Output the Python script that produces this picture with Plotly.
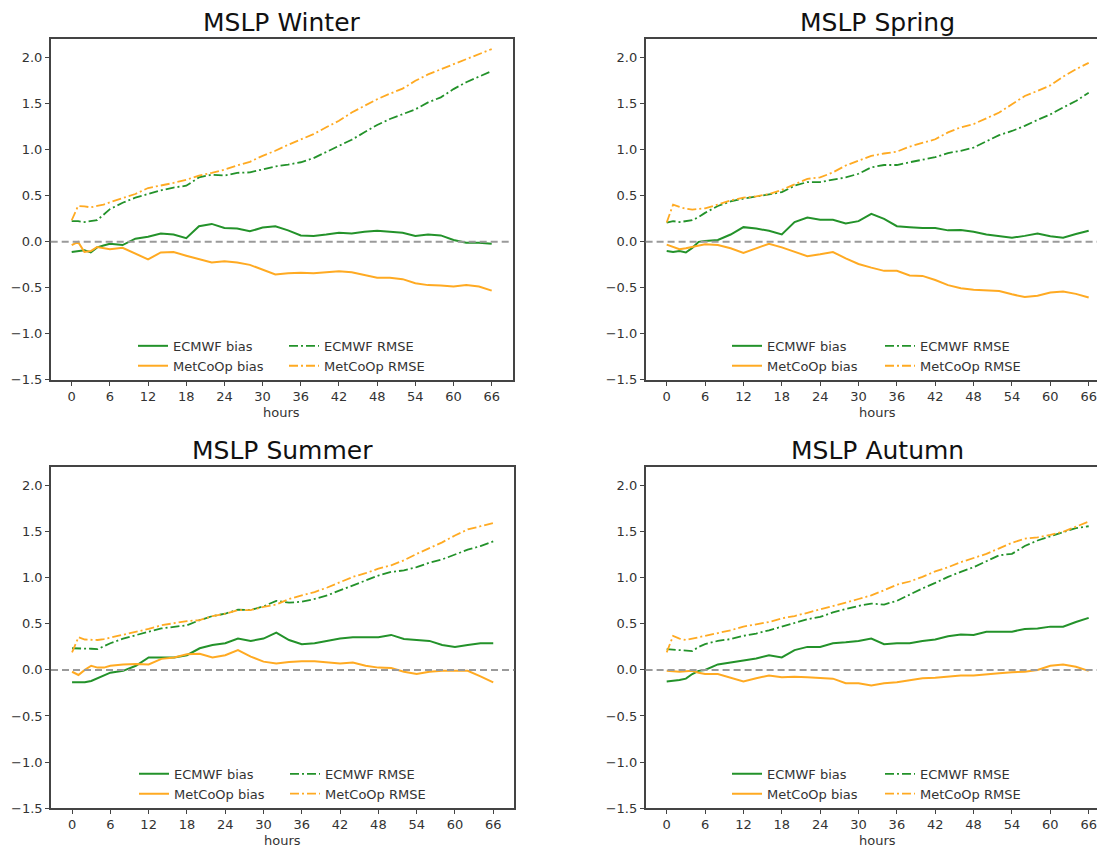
import plotly.graph_objects as go

# ---------------- data ----------------
hours = [0, 1, 2, 3, 4, 5, 6, 8, 10, 12, 14, 16, 18, 20, 22, 24, 26, 28, 30,
         32, 34, 36, 38, 40, 42, 44, 46, 48, 50, 52, 54, 56, 58, 60, 62, 64, 66]

x_tick_vals = [0, 6, 12, 18, 24, 30, 36, 42, 48, 54, 60, 66]
y_tick_vals = [-1.5, -1.0, -0.5, 0.0, 0.5, 1.0, 1.5, 2.0]
y_tick_text = ["\u22121.5", "\u22121.0", "\u22120.5", "0.0", "0.5", "1.0", "1.5", "2.0"]

titles = ["MSLP Winter", "MSLP Spring", "MSLP Summer", "MSLP Autumn"]
series_names = ["ECMWF bias", "MetCoOp bias", "ECMWF RMSE", "MetCoOp RMSE"]

winter_ecmwf_bias = [-0.11, -0.10, -0.09, -0.115, -0.06, -0.04, -0.02, -0.035, 0.035, 0.055, 0.09, 0.08, 0.04,
                     0.17, 0.195, 0.15, 0.145, 0.115, 0.155, 0.17, 0.125, 0.07, 0.065, 0.08, 0.10, 0.09, 0.11,
                     0.12, 0.11, 0.10, 0.065, 0.08, 0.07, 0.02, -0.01, -0.01, -0.02]
winter_metcoop_bias = [-0.035, 0.0, -0.11, -0.10, -0.055, -0.065, -0.08, -0.065, -0.125, -0.19, -0.115, -0.11,
                       -0.15, -0.19, -0.225, -0.21, -0.225, -0.25, -0.305, -0.355, -0.34, -0.335, -0.34, -0.33,
                       -0.32, -0.33, -0.36, -0.39, -0.39, -0.405, -0.45, -0.47, -0.475, -0.485, -0.47, -0.485, -0.53]
winter_ecmwf_rmse = [0.225, 0.225, 0.215, 0.225, 0.235, 0.295, 0.355, 0.425, 0.48, 0.52, 0.56, 0.59, 0.61, 0.70,
                     0.73, 0.72, 0.75, 0.755, 0.79, 0.82, 0.84, 0.865, 0.91, 0.975, 1.045, 1.11, 1.19, 1.27, 1.335,
                     1.385, 1.44, 1.515, 1.57, 1.66, 1.735, 1.795, 1.855]
winter_metcoop_rmse = [0.235, 0.39, 0.385, 0.375, 0.39, 0.405, 0.43, 0.475, 0.52, 0.585, 0.61, 0.64, 0.675, 0.72,
                       0.75, 0.785, 0.83, 0.87, 0.935, 0.99, 1.055, 1.115, 1.17, 1.245, 1.315, 1.405, 1.475, 1.55,
                       1.61, 1.665, 1.75, 1.82, 1.875, 1.93, 1.98, 2.035, 2.095]

spring_ecmwf_bias = [-0.10, -0.11, -0.10, -0.115, -0.065, 0.0, 0.01, 0.02, 0.08, 0.16, 0.145, 0.12, 0.08, 0.215,
                     0.265, 0.24, 0.24, 0.20, 0.225, 0.305, 0.25, 0.17, 0.16, 0.15, 0.15, 0.125, 0.13, 0.11, 0.08,
                     0.06, 0.045, 0.065, 0.09, 0.06, 0.045, 0.085, 0.12]
spring_metcoop_bias = [-0.03, -0.055, -0.08, -0.07, -0.055, -0.035, -0.025, -0.035, -0.07, -0.12, -0.07, -0.02,
                       -0.06, -0.11, -0.155, -0.135, -0.11, -0.18, -0.24, -0.28, -0.315, -0.315, -0.365, -0.37,
                       -0.415, -0.47, -0.505, -0.52, -0.53, -0.535, -0.57, -0.60, -0.585, -0.55, -0.54, -0.565, -0.605]
spring_ecmwf_rmse = [0.21, 0.225, 0.215, 0.225, 0.235, 0.27, 0.315, 0.39, 0.44, 0.47, 0.495, 0.52, 0.54, 0.61,
                     0.65, 0.65, 0.675, 0.70, 0.74, 0.81, 0.835, 0.835, 0.865, 0.895, 0.92, 0.965, 0.99, 1.025,
                     1.09, 1.16, 1.205, 1.26, 1.325, 1.385, 1.46, 1.53, 1.62]
spring_metcoop_rmse = [0.21, 0.405, 0.38, 0.36, 0.35, 0.36, 0.365, 0.405, 0.45, 0.48, 0.495, 0.52, 0.565, 0.625,
                       0.685, 0.70, 0.755, 0.83, 0.885, 0.935, 0.96, 0.98, 1.035, 1.075, 1.115, 1.19, 1.245, 1.28,
                       1.345, 1.405, 1.495, 1.585, 1.64, 1.70, 1.795, 1.875, 1.945]

summer_ecmwf_bias = [-0.135, -0.135, -0.135, -0.12, -0.09, -0.055, -0.03, -0.01, 0.045, 0.135, 0.135, 0.135, 0.16,
                     0.235, 0.27, 0.29, 0.34, 0.315, 0.34, 0.405, 0.325, 0.28, 0.29, 0.315, 0.34, 0.355, 0.355,
                     0.355, 0.38, 0.335, 0.325, 0.315, 0.27, 0.25, 0.27, 0.29, 0.29]
summer_metcoop_bias = [-0.02, -0.055, 0.0, 0.045, 0.025, 0.025, 0.045, 0.06, 0.065, 0.06, 0.12, 0.135, 0.17, 0.175,
                       0.135, 0.16, 0.215, 0.145, 0.09, 0.07, 0.085, 0.095, 0.095, 0.08, 0.07, 0.08, 0.045, 0.025,
                       0.02, -0.02, -0.045, -0.02, -0.01, -0.01, -0.01, -0.07, -0.135]
summer_ecmwf_rmse = [0.235, 0.235, 0.235, 0.23, 0.225, 0.26, 0.29, 0.34, 0.38, 0.415, 0.45, 0.47, 0.485, 0.54,
                     0.585, 0.61, 0.655, 0.65, 0.69, 0.75, 0.73, 0.74, 0.77, 0.81, 0.865, 0.92, 0.975, 1.025,
                     1.065, 1.08, 1.115, 1.165, 1.20, 1.25, 1.305, 1.345, 1.395]
summer_metcoop_rmse = [0.19, 0.355, 0.33, 0.325, 0.325, 0.335, 0.35, 0.385, 0.415, 0.445, 0.485, 0.505, 0.53, 0.54,
                       0.585, 0.61, 0.65, 0.65, 0.685, 0.71, 0.77, 0.81, 0.845, 0.895, 0.955, 1.01, 1.05, 1.10,
                       1.135, 1.19, 1.26, 1.32, 1.385, 1.46, 1.525, 1.56, 1.595]

autumn_ecmwf_bias = [-0.125, -0.118, -0.11, -0.095, -0.045, -0.01, 0.0, 0.06, 0.08, 0.105, 0.125, 0.16, 0.135,
                     0.215, 0.25, 0.25, 0.29, 0.30, 0.315, 0.34, 0.28, 0.29, 0.29, 0.315, 0.33, 0.365, 0.385, 0.38,
                     0.415, 0.415, 0.415, 0.445, 0.45, 0.47, 0.47, 0.52, 0.565]
autumn_metcoop_bias = [-0.01, -0.015, -0.02, -0.015, -0.01, -0.03, -0.045, -0.045, -0.085, -0.125, -0.09, -0.06,
                       -0.08, -0.075, -0.08, -0.085, -0.095, -0.145, -0.145, -0.17, -0.145, -0.135, -0.11, -0.09,
                       -0.085, -0.07, -0.06, -0.06, -0.045, -0.035, -0.025, -0.02, 0.0, 0.045, 0.06, 0.035, -0.01]
autumn_ecmwf_rmse = [0.225, 0.22, 0.215, 0.21, 0.205, 0.25, 0.28, 0.315, 0.335, 0.37, 0.395, 0.43, 0.47, 0.51,
                     0.55, 0.575, 0.625, 0.66, 0.695, 0.72, 0.71, 0.75, 0.82, 0.885, 0.945, 1.01, 1.065, 1.115,
                     1.18, 1.245, 1.26, 1.345, 1.405, 1.45, 1.495, 1.54, 1.56]
autumn_metcoop_rmse = [0.19, 0.37, 0.34, 0.325, 0.34, 0.355, 0.37, 0.395, 0.43, 0.47, 0.495, 0.52, 0.56, 0.585,
                       0.62, 0.655, 0.69, 0.73, 0.77, 0.81, 0.865, 0.925, 0.96, 1.01, 1.07, 1.115, 1.17, 1.215,
                       1.26, 1.32, 1.38, 1.425, 1.44, 1.465, 1.5, 1.555, 1.61]

panels = [
    [winter_ecmwf_bias, winter_metcoop_bias, winter_ecmwf_rmse, winter_metcoop_rmse],
    [spring_ecmwf_bias, spring_metcoop_bias, spring_ecmwf_rmse, spring_metcoop_rmse],
    [summer_ecmwf_bias, summer_metcoop_bias, summer_ecmwf_rmse, summer_metcoop_rmse],
    [autumn_ecmwf_bias, autumn_metcoop_bias, autumn_ecmwf_rmse, autumn_metcoop_rmse],
]

# ---------------- styling / layout ----------------
W, H = 1097, 856
GREEN = "#23922a"
ORANGE = "#ffaa22"
FONT = "DejaVu Sans"
TXT = "#333333"
AX = "#444444"

colors = [GREEN, ORANGE, GREEN, ORANGE]
dashes = ["solid", "solid", "9px,3px,2px,3px", "9px,3px,2px,3px"]
widths = [2.0, 2.0, 1.8, 1.8]

# pixel geometry of each axes box: (left, right, top, bottom, xrange, yrange)
boxes = [
    (50.7, 512.7, 39.3, 383.5, [-3.3, 69.3], [-1.5, 2.205]),
    (645.6, 1097, 39.3, 383.5, [-3.3, 67.3], [-1.5, 2.205]),
    (51.0, 514.3, 471.7, 815.7, [-3.3, 69.3], [-1.5, 2.2]),
    (645.6, 1097, 471.7, 815.7, [-3.3, 67.3], [-1.5, 2.2]),
]
legend_px = [  # (col1 x, col2 x, top y)
    (133, 284, 334),
    (727, 880, 334),
    (134, 285, 766),
    (727, 880, 766),
]

fig = go.Figure()
layout = dict(
    width=W, height=H,
    margin=dict(l=0, r=0, t=0, b=0),
    paper_bgcolor="white", plot_bgcolor="white",
    font=dict(family=FONT, size=13, color=TXT),
    annotations=[], shapes=[],
)

for i, (vals, box) in enumerate(zip(panels, boxes)):
    n = i + 1
    xa = "x" if n == 1 else f"x{n}"
    ya = "y" if n == 1 else f"y{n}"
    left, right, top, bottom, xr, yr = box
    right_clipped = right >= W
    lg1 = "legend" if n == 1 else f"legend{2 * n - 1}"
    lg2 = f"legend{2 * n}"
    for k in range(4):
        fig.add_trace(go.Scatter(
            x=hours, y=vals[k], mode="lines", name=series_names[k],
            line=dict(color=colors[k], width=widths[k], dash=dashes[k]),
            xaxis=xa, yaxis=ya, legend=lg1 if k < 2 else lg2, showlegend=True,
        ))
    xkey = "xaxis" if n == 1 else f"xaxis{n}"
    ykey = "yaxis" if n == 1 else f"yaxis{n}"
    layout[xkey] = dict(
        domain=[left / W, min(right / W, 1.0)], range=xr, anchor=ya,
        tickmode="array", tickvals=x_tick_vals, ticks="outside", ticklen=4, tickwidth=1,
        tickcolor=AX, showline=True, linecolor=AX, linewidth=1.5, mirror=True,
        showgrid=False, zeroline=False, tickfont=dict(size=13, color=TXT),
        ticklabeloverflow="allow",
    )
    layout[ykey] = dict(
        domain=[1 - bottom / H, 1 - top / H], range=yr, anchor=xa,
        tickmode="array", tickvals=y_tick_vals, ticktext=y_tick_text, ticks="outside",
        ticklen=4, tickwidth=1, tickcolor=AX, showline=True, linecolor=AX, linewidth=1.5,
        mirror=(not right_clipped), showgrid=False, zeroline=False,
        tickfont=dict(size=13, color=TXT),
    )
    # zero reference line
    layout["shapes"].append(dict(
        type="line", xref=f"{xa} domain", yref=ya, x0=0, x1=1, y0=0, y1=0,
        line=dict(color="#9a9a9a", width=2, dash="7px,4px"), layer="above",
    ))
    # title
    cx = (left + (right if not right_clipped else 1110)) / 2
    layout["annotations"].append(dict(
        text=titles[i], x=cx / W, y=1 - (top - 17) / H, xref="paper", yref="paper",
        xanchor="center", yanchor="middle", showarrow=False,
        font=dict(family=FONT, size=25, color="#111111"),
    ))
    # x axis label
    layout["annotations"].append(dict(
        text="hours", x=cx / W, y=1 - (bottom + 33) / H, xref="paper", yref="paper",
        xanchor="center", yanchor="middle", showarrow=False,
        font=dict(family=FONT, size=13, color=TXT),
    ))
    c1, c2, ly = legend_px[i]
    for key, lx in ((lg1, c1), (lg2, c2)):
        layout[key] = dict(
            x=lx / W, y=1 - ly / H, xanchor="left", yanchor="top", orientation="v",
            bgcolor="rgba(0,0,0,0)", borderwidth=0,
            font=dict(family=FONT, size=13, color=TXT),
        )

fig.update_layout(**layout)
fig.write_html("out.html")
